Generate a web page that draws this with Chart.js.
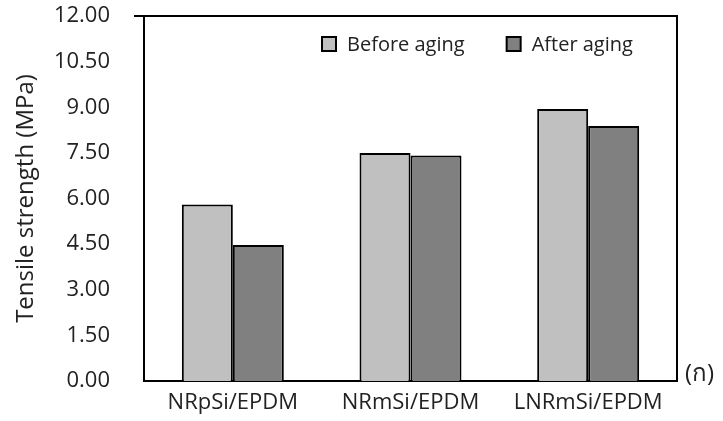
<!DOCTYPE html>
<html>
<head>
<meta charset="utf-8">
<script src="https://cdn.jsdelivr.net/npm/chart.js@4.4.1/dist/chart.umd.min.js"></script>
<style>
  html, body { margin: 0; padding: 0; background: #fff; }
  #wrap { width: 723px; height: 421px; position: relative; }
</style>
</head>
<body>
<div id="wrap"><canvas id="c" width="723" height="421"></canvas></div>
<script>
// Tensile strength of the three blends, before and after aging
const categories = ['NRpSi/EPDM', 'NRmSi/EPDM', 'LNRmSi/EPDM'];
const beforeAging = [5.80, 7.50, 8.94];
const afterAging = [4.47, 7.41, 8.38];
const seriesNames = ['Before aging', 'After aging'];
const yTickLabels = ['0.00', '1.50', '3.00', '4.50', '6.00', '7.50', '9.00', '10.50', '12.00'];
const yAxisTitle = 'Tensile strength (MPa)';
const panelTag = '(ก)';

const FONT = "'Open Sans', 'Noto Sans', sans-serif";
const TEXT = '#222222';

// Frame around the plot area plus the panel tag at the right of the baseline
const framePlugin = {
  id: 'frame',
  afterDatasetsDraw(chart) {
    const { ctx, chartArea: a } = chart;
    ctx.save();
    ctx.strokeStyle = '#000';
    ctx.lineWidth = 2;
    ctx.beginPath();
    ctx.moveTo(a.left - 10, a.top);
    ctx.lineTo(a.right, a.top);
    ctx.lineTo(a.right, a.bottom);
    ctx.stroke();
    ctx.fillStyle = TEXT;
    ctx.font = '24px ' + FONT;
    ctx.textAlign = 'left';
    ctx.textBaseline = 'middle';
    ctx.fillText(panelTag, a.right + 8, a.bottom - 7);
    ctx.restore();
  }
};

// Legend drawn inside the plot area, near the top
const insideLegend = {
  id: 'insideLegend',
  afterDraw(chart, args, opts) {
    const { ctx, chartArea: a } = chart;
    ctx.save();
    ctx.font = opts.fontSize + 'px ' + FONT;
    ctx.textBaseline = 'middle';
    ctx.textAlign = 'left';
    let x = a.left + opts.offsetX;
    const cy = a.top + opts.offsetY;
    chart.data.datasets.forEach((ds) => {
      const s = opts.boxSize;
      ctx.fillStyle = ds.backgroundColor;
      ctx.fillRect(x, cy - s / 2, s, s);
      ctx.strokeStyle = '#000';
      ctx.lineWidth = 2;
      ctx.strokeRect(x, cy - s / 2, s, s);
      ctx.fillStyle = TEXT;
      const tx = x + s + opts.textGap;
      ctx.fillText(ds.label, tx, cy + 1);
      x = tx + ctx.measureText(ds.label).width + opts.itemGap;
    });
    ctx.restore();
  }
};

new Chart(document.getElementById('c'), {
  type: 'bar',
  data: {
    labels: categories,
    datasets: [
      {
        label: seriesNames[0],
        data: beforeAging,
        backgroundColor: '#c0c0c0',
        borderColor: '#000000',
        borderWidth: 2,
        borderSkipped: 'bottom'
      },
      {
        label: seriesNames[1],
        data: afterAging,
        backgroundColor: '#808080',
        borderColor: '#000000',
        borderWidth: 2,
        borderSkipped: 'bottom'
      }
    ]
  },
  options: {
    responsive: false,
    animation: false,
    devicePixelRatio: 1,
    layout: { padding: { left: 0, right: 46, top: 16, bottom: 0 } },
    datasets: { bar: { barPercentage: 1.0, categoryPercentage: 0.574 } },
    plugins: {
      legend: { display: false },
      tooltip: { enabled: false },
      insideLegend: { offsetX: 178, offsetY: 28, boxSize: 14, textGap: 11, itemGap: 42, fontSize: 20 }
    },
    scales: {
      x: {
        grid: { display: false, drawTicks: false },
        border: { display: true, color: '#000', width: 2 },
        ticks: { color: TEXT, font: { family: FONT, size: 22 }, padding: 9, maxRotation: 0, autoSkip: false },
        afterFit(scale) {
          scale.height = 40;
          scale.paddingLeft = 0;
          scale.paddingRight = 0;
        }
      },
      y: {
        min: 0,
        max: 12,
        grid: { display: false, drawOnChartArea: false, drawTicks: true, tickLength: 10, tickColor: '#000', tickWidth: 2 },
        border: { display: true, color: '#000', width: 2 },
        ticks: {
          stepSize: 1.5,
          color: TEXT,
          font: { family: FONT, size: 22 },
          padding: 24,
          callback: (v, i) => yTickLabels[i]
        },
        title: {
          display: true,
          text: yAxisTitle,
          color: TEXT,
          font: { family: FONT, size: 24 },
          padding: { top: 12, bottom: 0 }
        },
        afterFit(scale) {
          scale.width = 144;
          scale.paddingTop = 0;
          scale.paddingBottom = 0;
        }
      }
    }
  },
  plugins: [framePlugin, insideLegend]
});
</script>
</body>
</html>
